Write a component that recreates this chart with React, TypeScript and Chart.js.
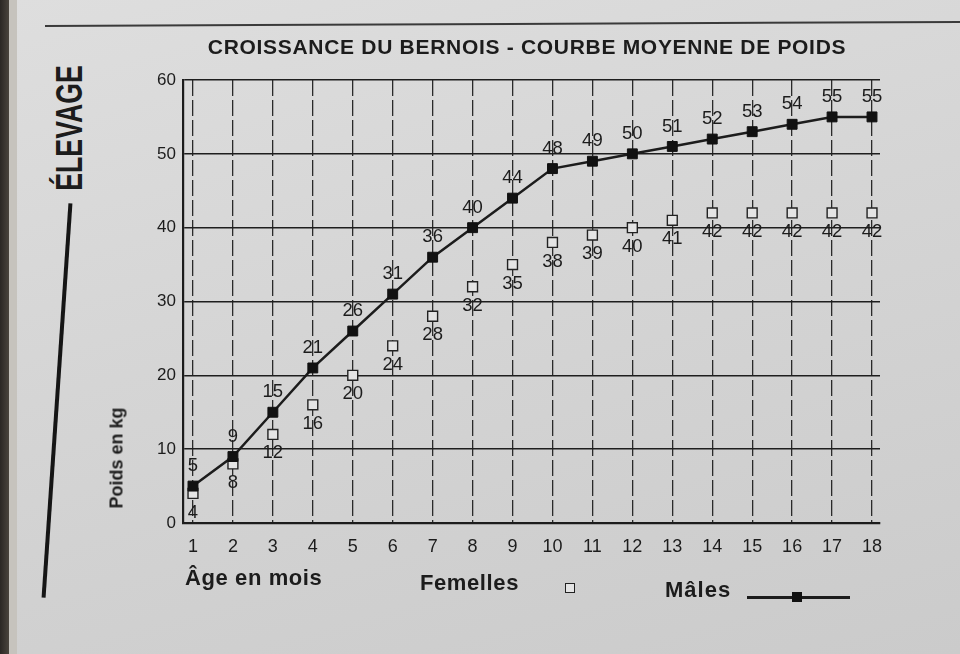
import React, { useEffect, useRef } from "react";
import { Chart, registerables } from "chart.js";

Chart.register(...registerables);

const ages = [1, 2, 3, 4, 5, 6, 7, 8, 9, 10, 11, 12, 13, 14, 15, 16, 17, 18];
const males = [5, 9, 15, 21, 26, 31, 36, 40, 44, 48, 49, 50, 51, 52, 53, 54, 55, 55];
const females = [4, 8, 12, 16, 20, 24, 28, 32, 35, 38, 39, 40, 41, 42, 42, 42, 42, 42];
const yTicks = [0, 10, 20, 30, 40, 50, 60];

const titleText = "CROISSANCE DU BERNOIS - COURBE MOYENNE DE POIDS";
const sideText = "ÉLEVAGE";
const yTitle = "Poids en kg";
const xTitle = "Âge en mois";
const femaleLabel = "Femelles";
const maleLabel = "Mâles";

const FONT = '"Liberation Sans", Arial, Helvetica, sans-serif';
const INK = "#1c1c1c";
const PAPER_PT = "#e4e4e4";

const valueLabels = {
  id: "valueLabels",
  afterDatasetsDraw(chart: any) {
    const ctx = chart.ctx;
    ctx.save();
    ctx.font = `18.5px ${FONT}`;
    ctx.fillStyle = INK;
    ctx.textAlign = "center";
    ctx.textBaseline = "middle";
    chart.data.datasets.forEach((ds: any, di: number) => {
      const meta = chart.getDatasetMeta(di);
      const above = di === 0;
      meta.data.forEach((el: any, i: number) => {
        const v = ds.data[i].y;
        ctx.fillText(String(v), el.x, el.y + (above ? -20 : 19));
      });
    });
    ctx.restore();
  },
};

export default function App() {
  const ref = useRef<HTMLCanvasElement | null>(null);

  useEffect(() => {
    if (!ref.current) return;
    const chart = new Chart(ref.current, {
      type: "line",
      data: {
        datasets: [
          {
            label: maleLabel,
            data: ages.map((a, i) => ({ x: a, y: males[i] })),
            borderColor: INK,
            borderWidth: 2.5,
            pointStyle: "rect",
            pointRadius: 7,
            pointBackgroundColor: "#111",
            pointBorderColor: "#111",
            pointBorderWidth: 1,
            tension: 0,
          },
          {
            label: femaleLabel,
            data: ages.map((a, i) => ({ x: a, y: females[i] })),
            showLine: false,
            pointStyle: "rect",
            pointRadius: 7,
            pointBackgroundColor: PAPER_PT,
            pointBorderColor: "#222",
            pointBorderWidth: 1.4,
          },
        ],
      },
      options: {
        responsive: false,
        animation: false,
        events: [],
        layout: { padding: { left: 0, top: 80, right: 80, bottom: 91 } },
        plugins: {
          legend: { display: false },
          tooltip: { enabled: false },
          title: { display: false },
        },
        scales: {
          x: {
            type: "linear",
            min: 0.75,
            max: 18.2,
            afterBuildTicks: (s: any) => {
              s.ticks = ages.map((v) => ({ value: v }));
            },
            afterFit: (s: any) => {
              s.height = 40;
            },
            ticks: {
              color: INK,
              font: { family: FONT, size: 18 },
              padding: 13,
              autoSkip: false,
              maxRotation: 0,
              callback: (v: any) => String(v),
            },
            grid: { color: "#2a2a2a", lineWidth: 1.3, drawTicks: false },
            border: { display: true, color: INK, width: 2.2, dash: [16, 4] },
          },
          y: {
            type: "linear",
            min: 0,
            max: 60,
            afterBuildTicks: (s: any) => {
              s.ticks = yTicks.map((v) => ({ value: v }));
            },
            afterFit: (s: any) => {
              s.width = 183;
            },
            ticks: {
              color: INK,
              font: { family: FONT, size: 17 },
              padding: 7,
            },
            grid: { color: "#1e1e1e", lineWidth: 1.6, drawTicks: false },
            border: { display: true, color: INK, width: 2.2 },
          },
        },
      },
      plugins: [valueLabels],
    } as any);
    return () => chart.destroy();
  }, []);

  const bold = { fontFamily: FONT, fontWeight: 700, color: INK, position: "absolute" as const, whiteSpace: "nowrap" as const };

  return (
    <div
      style={{
        position: "fixed",
        left: 0,
        top: 0,
        width: 960,
        height: 654,
        overflow: "hidden",
        background: "linear-gradient(165deg, #dedede 0%, #d5d5d5 45%, #cbcbcb 100%)",
      }}
    >
      {/* page edge */}
      <div style={{ position: "absolute", left: 0, top: 0, width: 9, height: 654, background: "linear-gradient(90deg,#2b2724,#4a443d)" }} />
      <div style={{ position: "absolute", left: 9, top: 0, width: 8, height: 654, background: "#c6c3bd" }} />
      {/* top rule */}
      <div style={{ position: "absolute", left: 45, top: 25, width: 915, height: 1.5, background: "#3a3a3a", transform: "rotate(-0.25deg)", transformOrigin: "0 0" }} />
      {/* side bar */}
      <div style={{ position: "absolute", left: 56.5 - 2, top: 400 - 197, width: 4, height: 395, background: "#151515", transform: "rotate(3.9deg)" }} />
      <div
        style={{
          ...bold,
          left: 69,
          top: 128,
          fontSize: 37,
          lineHeight: "37px",
          transform: "translate(-50%,-50%) rotate(-90deg) scaleX(0.72)",
        }}
      >
        {sideText}
      </div>
      <canvas ref={ref} width={960} height={654} style={{ position: "absolute", left: 0, top: 0 }} />
      <div style={{ ...bold, left: 527, top: 47, fontSize: 21, letterSpacing: 0.7, transform: "translate(-50%,-50%)" }}>{titleText}</div>
      <div
        style={{
          ...bold,
          left: 117,
          top: 458,
          fontSize: 18,
          transform: "translate(-50%,-50%) rotate(-90deg)",
        }}
      >
        {yTitle}
      </div>
      <div style={{ ...bold, left: 185, top: 578, fontSize: 22, letterSpacing: 0.6, transform: "translateY(-50%)" }}>{xTitle}</div>
      <div style={{ ...bold, left: 420, top: 583, fontSize: 22, letterSpacing: 0.6, transform: "translateY(-50%)" }}>{femaleLabel}</div>
      <div style={{ position: "absolute", left: 565, top: 583, width: 8, height: 8, border: "1.5px solid #222", background: PAPER_PT }} />
      <div style={{ ...bold, left: 665, top: 590, fontSize: 22, letterSpacing: 1, transform: "translateY(-50%)" }}>{maleLabel}</div>
      <div style={{ position: "absolute", left: 747, top: 596, width: 103, height: 2.5, background: INK }} />
      <div style={{ position: "absolute", left: 792, top: 592, width: 10, height: 10, background: "#111" }} />
    </div>
  );
}
